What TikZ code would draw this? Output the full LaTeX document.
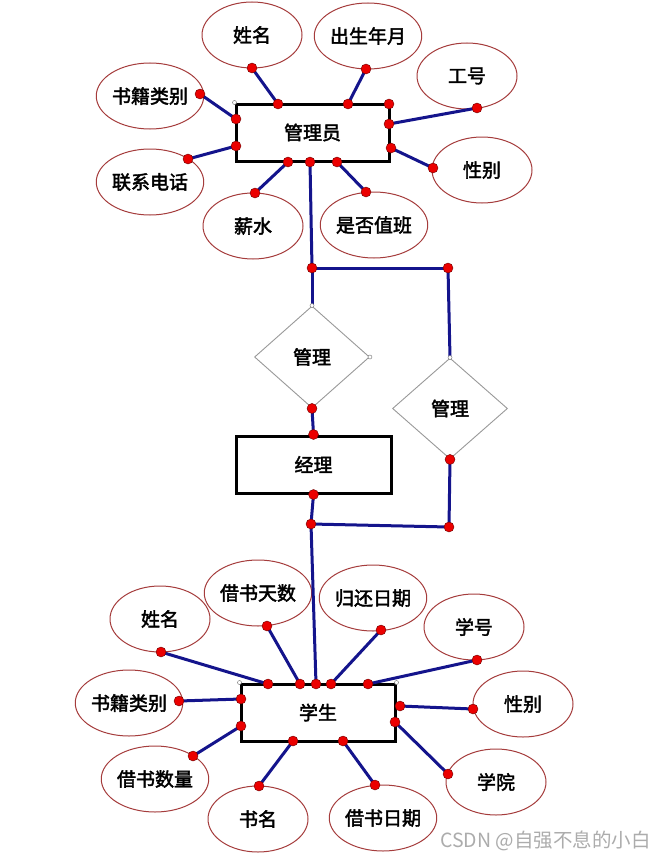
\documentclass[tikz,border=0pt]{standalone}
\usepackage{fontspec}
\setmainfont{Noto Sans CJK SC}[BoldFont={Noto Sans CJK SC}, BoldFeatures={FakeBold=2.2}]
\newfontfamily\wmfont{Noto Sans CJK SC}
\usetikzlibrary{shapes.geometric}
\definecolor{ellred}{RGB}{165,60,60}
\definecolor{navyln}{RGB}{20,20,140}
\definecolor{dotred}{RGB}{235,0,0}
\definecolor{dotedge}{RGB}{110,0,0}
\definecolor{wmgray}{RGB}{172,172,172}
\tikzset{
  attr/.style={ellipse, draw=ellred, line width=1pt, fill=white, minimum width=100pt, minimum height=66pt, inner sep=0pt, font=\fontsize{19}{22}\selectfont\bfseries},
  entity/.style={rectangle, draw=black, line width=3pt, fill=white, inner sep=0pt, font=\fontsize{19}{22}\selectfont\bfseries},
  rel/.style={diamond, draw=gray!80, line width=0.9pt, fill=white, inner sep=0pt, font=\fontsize{19}{22}\selectfont\bfseries},
  conn/.style={draw=navyln, line width=3pt},
  rdot/.style={circle, fill=dotred, draw=dotedge, line width=0.4pt, minimum size=10pt, inner sep=0pt},
  wdot/.style={circle, fill=white, draw=gray, line width=0.5pt, minimum size=4pt, inner sep=0pt},
}
\begin{document}
\begin{tikzpicture}[x=1pt,y=-1pt]
\useasboundingbox[fill=white] (0,0) rectangle (663,859);

% ---------- top entity and attributes ----------
\node[attr] (a1) at (252,35) {姓名};
\node[attr] (a2) at (368,36) {出生年月};
\node[attr] (a3) at (467,76) {工号};
\node[attr] (a4) at (150,96) {书籍类别};
\node[attr] (a5) at (150,182) {联系电话};
\node[attr] (a6) at (253,226) {薪水};
\node[attr] (a7) at (374,225) {是否值班};
\node[attr] (a8) at (482,170) {性别};
\node[entity, minimum width=153pt, minimum height=57pt] (gly) at (312.5,132.5) {管理员};

% ---------- middle ----------
\node[rel, minimum width=115pt, minimum height=102pt] (d1) at (312,357) {管理};
\node[rel, minimum width=115pt, minimum height=101pt] (d2) at (450,408.5) {管理};
\node[entity, minimum width=155pt, minimum height=57pt] (jl) at (313.5,464.5) {经理};

% ---------- bottom entity and attributes ----------
\node[attr] (b1) at (160,619) {姓名};
\node[attr] (b2) at (258,593) {借书天数};
\node[attr] (b3) at (373,598) {归还日期};
\node[attr] (b4) at (474,627) {学号};
\node[attr] (b5) at (129,703) {书籍类别};
\node[attr] (b6) at (523,704) {性别};
\node[attr] (b7) at (155,779) {借书数量};
\node[attr] (b8) at (496,782) {学院};
\node[attr] (b9) at (258,819) {书名};
\node[attr] (b10) at (383,818) {借书日期};
\node[entity, minimum width=154pt, minimum height=57pt] (xs) at (318,712.5) {学生};

% ---------- connection points ----------
% top
\coordinate (p1e) at (252,68);  \coordinate (p1r) at (278,104);
\coordinate (p2e) at (366,69);  \coordinate (p2r) at (348,104);
\coordinate (p3e) at (477,108); \coordinate (p3r) at (389,124);
\coordinate (p4e) at (433,168); \coordinate (p4r) at (391,148);
\coordinate (p5e) at (366,192); \coordinate (p5r) at (337,162);
\coordinate (p6e) at (255,193); \coordinate (p6r) at (288,162);
\coordinate (p8e) at (188,159); \coordinate (p8r) at (236,146);
\coordinate (p9e) at (200,94);  \coordinate (p9r) at (236,119);
\coordinate (p7r) at (310,162);
\coordinate (pc) at (389,104);
% middle
\coordinate (j1) at (312,268);
\coordinate (j2) at (448,268);
\coordinate (j3) at (311,524);
\coordinate (j4) at (449,527);
% bottom
\coordinate (q1e) at (161,652);  \coordinate (q1r) at (268,684);
\coordinate (q2e) at (267,626);  \coordinate (q2r) at (300,684);
\coordinate (q3e) at (381,630);  \coordinate (q3r) at (331,684);
\coordinate (q4e) at (477,660);  \coordinate (q4r) at (368,684);
\coordinate (q5e) at (179,701);  \coordinate (q5r) at (241,699);
\coordinate (q6e) at (473,709);  \coordinate (q6r) at (400,706);
\coordinate (q7e) at (193,756);  \coordinate (q7r) at (241,726);
\coordinate (q8e) at (448,774);  \coordinate (q8r) at (395,722);
\coordinate (q9e) at (259,786);  \coordinate (q9r) at (293,741);
\coordinate (q10e) at (375,785); \coordinate (q10r) at (343,741);
\coordinate (qc) at (316,684);

% ---------- connectors ----------
\foreach \a in {1,2,3,4,5,6,8,9}{\draw[conn] (p\a e) -- (p\a r);}
\draw[conn] (p7r) -- (j1);
\draw[conn] (j1) -- (j2);
\draw[conn] (j1) -- (d1.north);
\draw[conn] (d1.south) -- (jl.north);
\draw[conn] (j2) -- (d2.north);
\draw[conn] (d2.south) -- (j4);
\draw[conn] (jl.south) -- (j3);
\draw[conn] (j3) -- (j4);
\draw[conn] (j3) -- (qc);
\foreach \a in {1,...,10}{\draw[conn] (q\a e) -- (q\a r);}

% ---------- dots ----------
\foreach \c in {p1e,p1r,p2e,p2r,p3e,p3r,p4e,p4r,p5e,p5r,p6e,p6r,p7r,p8e,p8r,p9e,p9r,pc,
                j1,j2,j3,j4,
                q1e,q1r,q2e,q2r,q3e,q3r,q4e,q4r,q5e,q5r,q6e,q6r,q7e,q7r,q8e,q8r,q9e,q9r,q10e,q10r,qc}
  {\node[rdot] at (\c) {};}
\node[rdot] (d1b) at (d1.south) {};
\node[rdot] (d2b) at (d2.south) {};
\node[rdot] (jlt) at (jl.north) {};
\node[rdot] (jlb) at (jl.south) {};
\node[wdot] (w1) at (gly.north west) {};
\node[wdot] (w2) at (d1.north) {};
\node[wdot] (w3) at (d1.east) {};
\node[wdot] (w4) at (d2.north) {};
\node[wdot] (w5) at (xs.north west) {};
\node[wdot] (w6) at (xs.north east) {};

% ---------- watermark ----------
\node[anchor=east, text=wmgray, font=\wmfont\fontsize{19.5}{21}\selectfont, inner sep=0pt] (wm) at (651,841) {CSDN @自强不息的小白};
\end{tikzpicture}
\end{document}
